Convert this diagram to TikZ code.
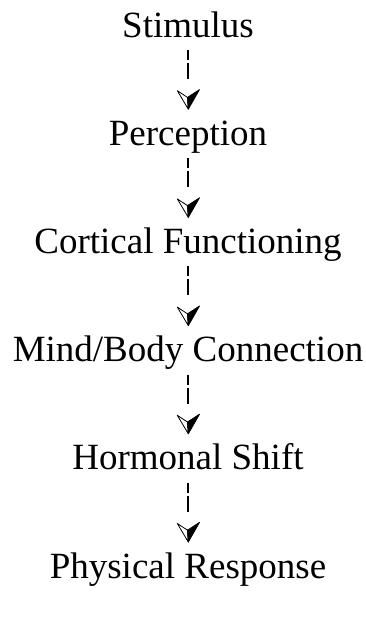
\documentclass[tikz,border=0pt]{standalone}
\usepackage{fontspec}
\setmainfont{Liberation Serif}
\usetikzlibrary{calc}
\begin{document}
\begin{tikzpicture}[x=1pt,y=1pt,
  lbl/.style={anchor=base, inner sep=0pt, font=\fontsize{37}{44}\selectfont},
  conn/.style={line width=1.2pt, dash pattern=on 10pt off 3pt on 16pt off 3pt},
  headline/.style={line width=0.8pt, line join=round}]
\useasboundingbox (0,0) rectangle (366,-635);
\node[lbl] (n1) at (188,-37) {Stimulus};
\node[lbl] (n2) at (188,-145.2) {Perception};
\node[lbl] (n3) at (188,-253.4) {Cortical Functioning};
\node[lbl] (n4) at (188,-361.6) {Mind/Body Connection};
\node[lbl] (n5) at (188,-469.8) {Hormonal Shift};
\node[lbl] (n6) at (188,-578) {Physical Response};
\foreach \a/\b in {n1/n2,n2/n3,n3/n4,n4/n5,n5/n6}{
  \draw[conn] ($(\a.base)+(0,-13)$) -- ($(\a.base)+(0,-42)$);
  \coordinate (t\b) at ($(\b.base)+(0.3,36)$);
  \filldraw[headline, fill=white] (t\b) -- ($(t\b)+(-11,18.5)$) -- ($(t\b)+(-0.8,11.8)$) -- cycle;
  \filldraw[headline, fill=black] (t\b) -- ($(t\b)+(-0.8,11.8)$) -- ($(t\b)+(11.2,19.6)$) -- cycle;
}
\end{tikzpicture}
\end{document}
